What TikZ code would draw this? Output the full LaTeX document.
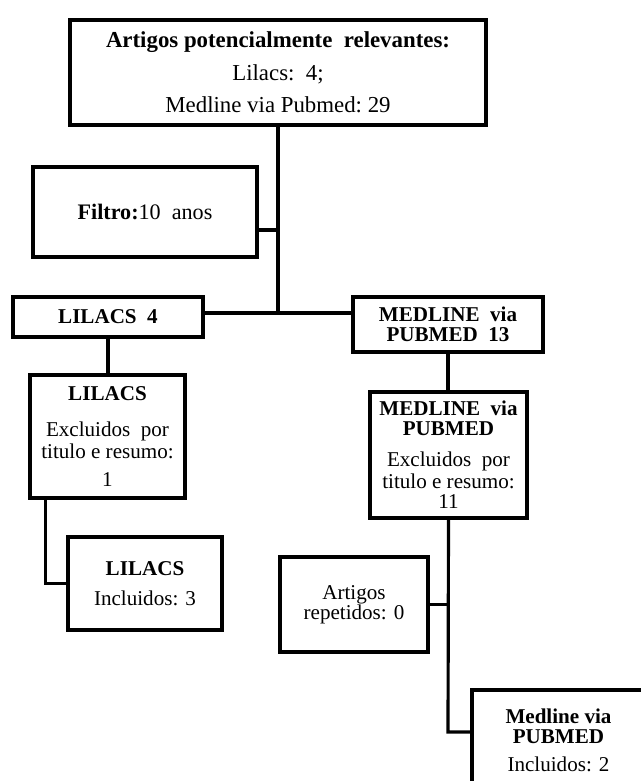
\documentclass[tikz,border=0pt]{standalone}
\usepackage{fontspec}
\setmainfont{Liberation Serif}
\begin{document}
\begin{tikzpicture}[x=0.02cm, y=-0.02cm, font=\fontsize{12}{11.5}\selectfont,
  caixa/.style={draw, line width=1.9pt, align=center, inner sep=0pt},
  liga/.style={line width=1.8pt}]
  \useasboundingbox (0,0) rectangle (641,781);
  \node[caixa, minimum width=8.32cm, minimum height=2.1cm, font=\fontsize{13}{12.5}\selectfont] (topo) at (278,72.5)
    {\textbf{Artigos potencialmente\ \ relevantes:}\\[6pt] Lilacs:\ \ 4;\\[6pt] Medline via Pubmed:\ 29};
  \node[caixa, minimum width=4.48cm, minimum height=1.8cm, font=\fontsize{12.6}{12}\selectfont] (filtro) at (145,212)
    {\textbf{Filtro:}10\ \ anos};
  \node[caixa, minimum width=3.8cm, minimum height=0.8cm] (lil4) at (108,317)
    {\textbf{LILACS\ \ 4}};
  \node[caixa, minimum width=3.8cm, minimum height=1.1cm] (med13) at (448,324.5)
    {\textbf{MEDLINE\ \ via}\\\textbf{PUBMED\ \ 13}};
  \node[caixa, minimum width=3.1cm, minimum height=2.46cm] (lilexc) at (107.5,436.5)
    {\textbf{LILACS}\\[9pt] Excluidos\ \ por\\[1pt] titulo e resumo:\\[4.5pt] 1};
  \node[caixa, minimum width=3.14cm, minimum height=2.52cm] (medexc) at (448.5,455)
    {\textbf{MEDLINE\ \ via}\\\textbf{PUBMED}\\[6pt] Excluidos\ \ por\\[1pt] titulo e resumo:\\ 11};
  \node[caixa, minimum width=3.08cm, minimum height=1.86cm] (lilinc) at (145,583.5)
    {\textbf{LILACS}\\[5.5pt] Incluidos: 3};
  \node[caixa, minimum width=2.96cm, minimum height=1.9cm] (rep) at (354,604.5)
    {Artigos\\repetidos: 0};
  \node[caixa, minimum width=3.46cm, minimum height=2.0cm] (medinc) at (558.5,740)
    {\textbf{Medline via}\\\textbf{PUBMED}\\[4.5pt] Incluidos: 2};
  \coordinate (j1) at (278,313);
  \coordinate (j2) at (278,230);
  \coordinate (j3) at (448,732);
  \draw[liga] (topo.south) -- (j1);
  \draw[liga] (lil4.east |- j1) -- (med13.west |- j1);
  \draw[liga] (filtro.east |- j2) -- (j2);
  \draw[liga] (lil4.south) -- (lil4.south |- lilexc.north);
  \draw[liga] (lilexc.south west) ++(17,0) |- (lilinc.west);
  \draw[liga] (med13.south) -- (med13.south |- medexc.north);
  \draw[liga] (medexc.south) -- (j3) -- (j3 -| medinc.west);
  \draw[liga] (rep.east) -- (rep.east -| j3);
\end{tikzpicture}
\end{document}
